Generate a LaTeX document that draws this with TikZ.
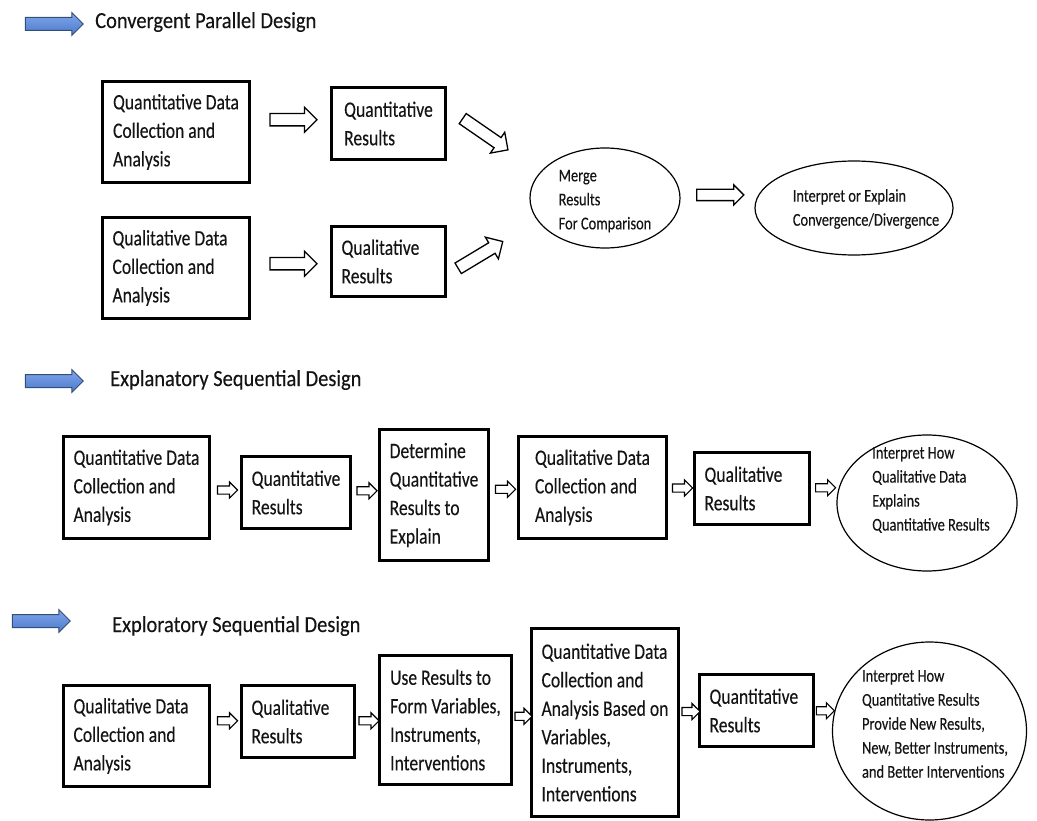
\documentclass[tikz,border=0pt]{standalone}
\usepackage{fontspec}
\setmainfont{Carlito}
\newfontfamily\narrowfont[FakeStretch=0.8,FakeBold=0.25]{Carlito}
\newfontfamily\headfont[FakeStretch=0.89,FakeBold=0.25]{Carlito}
\usetikzlibrary{shapes.geometric,shapes.arrows,calc}
\definecolor{headtop}{RGB}{128,166,232}
\definecolor{headbot}{RGB}{76,122,204}
\definecolor{headline}{RGB}{52,78,122}
\definecolor{ink}{RGB}{20,20,20}
\begin{document}
\begin{tikzpicture}[x=1pt,y=-1pt,
  box/.style={draw=black, line width=2.6pt, align=flush left, inner sep=0pt, text=ink,
    font=\narrowfont\fontsize{22}{28.5}\selectfont},
  % left-aligned text column with a fixed padding inside a box
  padded/.style={text width=#1},
  oval/.style={draw=black, ellipse, line width=1.2pt, inner sep=0pt},
  ovaltext/.style={align=flush left, inner sep=0pt, text=ink, font=\narrowfont\fontsize{18}{24}\selectfont},
  title/.style={anchor=west, inner sep=0pt, text=ink, font=\headfont\fontsize{23}{26}\selectfont},
  heading/.style={single arrow, draw=headline, top color=headtop, bottom color=headbot,
    line width=1pt, inner xsep=0pt, inner ysep=6pt, minimum width=0pt,
    single arrow head extend=5pt, minimum height=58pt},
  bigflow/.style={single arrow, draw=black, fill=white, line width=1.3pt, inner xsep=0pt,
    inner ysep=5.5pt, minimum width=0pt, single arrow head extend=6.5pt, minimum height=#1},
  midflow/.style={single arrow, draw=black, fill=white, line width=1.3pt, inner xsep=0pt,
    inner ysep=5pt, minimum width=0pt, single arrow head extend=4.5pt, minimum height=#1},
  smallflow/.style={single arrow, draw=black, fill=white, line width=1.1pt, inner xsep=0pt,
    inner ysep=3.5pt, minimum width=0pt, single arrow head extend=4pt, minimum height=#1},
]
\useasboundingbox (0,0) rectangle (1037,821);

% ---------- Convergent parallel design ----------
\node[heading] (h1) at (51,24) {};
\node[title] (t1) at (95,22) {Convergent Parallel Design};

\node[box, minimum width=147pt, minimum height=101pt] (a1) at (176,132)
  {Quantitative Data\\Collection and\\Analysis};
\node[box, padded=127pt, minimum width=147pt, minimum height=101pt] (a2) at (176,268)
  {Qualitative Data\\Collection and\\Analysis};
\node[box, minimum width=114pt, minimum height=72pt] (b1) at (388.5,123.5)
  {Quantitative\\Results};
\node[box, padded=94pt, minimum width=114pt, minimum height=70pt] (b2) at (388.5,261.5)
  {Qualitative\\Results};

\node[oval, minimum width=150pt, minimum height=100pt] (m) at (605,198) {};
\node[ovaltext] (mt) at (605,201) {Merge\\Results\\For Comparison};
\node[oval, minimum width=198pt, minimum height=94pt] (ie) at (854,208) {};
\node[ovaltext] (iet) at (866,209) {Interpret or Explain\\Convergence/Divergence};

\node[bigflow=47pt] (f1) at ($(a1.east)!0.5!(b1.west)+(0,-8)$) {};
\node[bigflow=47pt] (f2) at ($(a2.east)!0.5!(b2.west)+(0,-1)$) {};
\node[bigflow=55pt, rotate=-34.6] (f3) at ($(b1.east)+(36,9)$) {};
\node[bigflow=52pt, rotate=31] (f4) at ($(b2.east)+(31,-5)$) {};
\node[midflow=47pt] (f5) at ($(m.east)!0.5!(ie.west)+(0,-8)$) {};

% ---------- Explanatory sequential design ----------
\node[heading] (h2) at (51,381) {};
\node[title] (t2) at (110,380) {Explanatory Sequential Design};

\node[box, minimum width=146pt, minimum height=102pt] (c1) at (136.5,487.5)
  {Quantitative Data\\Collection and\\Analysis};
\node[box, minimum width=109pt, minimum height=72pt] (c2) at (296,492.5)
  {Quantitative\\Results};
\node[box, minimum width=109pt, minimum height=131pt] (c3) at (434,495)
  {Determine\\Quantitative\\Results to\\Explain};
\node[box, minimum width=148pt, minimum height=102pt] (c4) at (592.5,487.5)
  {Qualitative Data\\Collection and\\Analysis};
\node[box, padded=95pt, minimum width=115pt, minimum height=72pt] (c5) at (752,488.5)
  {Qualitative\\Results};
\node[oval, minimum width=180pt, minimum height=136pt] (e2) at (927,503) {};
\node[ovaltext] (e2t) at (931,490)
  {Interpret How\\Qualitative Data\\Explains\\Quantitative Results};

\node[smallflow=20pt] (g1) at ($(c1.east)!0.5!(c2.west)$) {};
\node[smallflow=20pt] (g2) at ($(c2.east)!0.5!(c3.west)+(0,-3)$) {};
\node[smallflow=20pt] (g3) at ($(c3.east)!0.5!(c4.west)+(0,-2)$) {};
\node[smallflow=20pt] (g4) at ($(c4.east)!0.5!(c5.west)$) {};
\node[smallflow=20pt] (g5) at ($(c5.east)!0.5!(e2.west)+(0,-8)$) {};

% ---------- Exploratory sequential design ----------
\node[heading] (h3) at (38,621) {};
\node[title] (t3) at (112,626) {Exploratory Sequential Design};

\node[box, padded=126pt, minimum width=146pt, minimum height=101pt] (d1) at (136.5,736)
  {Qualitative Data\\Collection and\\Analysis};
\node[box, padded=93pt, minimum width=113pt, minimum height=72pt] (d2) at (298,721.5)
  {Qualitative\\Results};
\node[box, minimum width=132pt, minimum height=129pt] (d3) at (445.5,720)
  {Use Results to\\Form Variables,\\Instruments,\\Interventions};
\node[box, minimum width=147pt, minimum height=188pt] (d4) at (605,722.5)
  {Quantitative Data\\Collection and\\Analysis Based on\\Variables,\\Instruments,\\Interventions};
\node[box, padded=94pt, minimum width=114pt, minimum height=72pt] (d5) at (756.5,710.5)
  {Quantitative\\Results};
\node[oval, minimum width=194pt, minimum height=178pt] (e3) at (929.5,731) {};
\node[ovaltext] (e3t) at (935,724)
  {Interpret How\\Quantitative Results\\Provide New Results,\\New, Better Instruments,\\and Better Interventions};

\node[smallflow=20pt] (k1) at ($(d1.east)!0.5!(d2.west)+(0,-8)$) {};
\node[smallflow=20pt] (k2) at ($(d2.east)!0.5!(d3.west)$) {};
\node[smallflow=17pt] (k3) at ($(d3.east)!0.5!(d4.west)+(0,-5)$) {};
\node[smallflow=18pt] (k4) at ($(d4.east)!0.5!(d5.west)+(0,-5)$) {};
\node[smallflow=18pt] (k5) at ($(d5.east)!0.5!(e3.west)+(0,-10)$) {};

\end{tikzpicture}
\end{document}
